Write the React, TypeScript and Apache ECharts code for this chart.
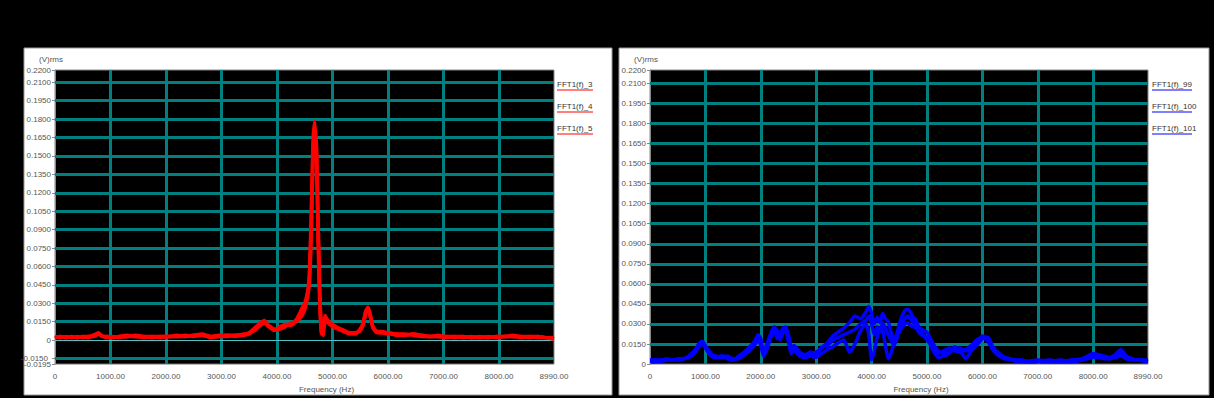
import { useEffect, useRef } from "react";
import * as echarts from "echarts";

// ---- Left panel data (Hz, (V)rms) ----
const freqL = [0, 100, 200, 300, 400, 500, 600, 700, 780, 860, 950, 1050, 1150, 1300, 1450, 1600, 1750, 1900, 2050, 2200, 2350, 2500, 2650, 2800, 2950, 3100, 3250, 3400, 3500, 3600, 3700, 3770, 3850, 3950, 4050, 4150, 4250, 4350, 4450, 4520, 4580, 4620, 4650, 4680, 4710, 4740, 4770, 4800, 4830, 4870, 4920, 5000, 5100, 5200, 5300, 5400, 5480, 5550, 5600, 5640, 5680, 5730, 5800, 5900, 6000, 6150, 6300, 6450, 6600, 6750, 6900, 7050, 7200, 7350, 7500, 7650, 7800, 7950, 8100, 8250, 8400, 8550, 8700, 8850, 8990];
const fft3 = [0.002, 0.003, 0.002, 0.003, 0.002, 0.003, 0.003, 0.004, 0.006, 0.003, 0.003, 0.002, 0.003, 0.004, 0.003, 0.003, 0.003, 0.003, 0.003, 0.004, 0.003, 0.004, 0.005, 0.003, 0.004, 0.004, 0.004, 0.005, 0.006, 0.010, 0.014, 0.016, 0.012, 0.008, 0.011, 0.013, 0.012, 0.016, 0.022, 0.030, 0.052, 0.110, 0.165, 0.178, 0.150, 0.080, 0.030, 0.008, 0.004, 0.018, 0.016, 0.012, 0.010, 0.008, 0.006, 0.005, 0.008, 0.014, 0.024, 0.027, 0.020, 0.010, 0.007, 0.007, 0.006, 0.005, 0.004, 0.005, 0.004, 0.003, 0.004, 0.003, 0.003, 0.003, 0.002, 0.003, 0.002, 0.003, 0.003, 0.004, 0.003, 0.003, 0.003, 0.002, 0.001];
const fft4 = [0.003, 0.002, 0.003, 0.002, 0.003, 0.002, 0.003, 0.003, 0.005, 0.003, 0.002, 0.003, 0.002, 0.003, 0.003, 0.002, 0.003, 0.002, 0.003, 0.003, 0.004, 0.003, 0.004, 0.003, 0.003, 0.004, 0.003, 0.004, 0.005, 0.009, 0.012, 0.014, 0.011, 0.008, 0.009, 0.011, 0.014, 0.015, 0.020, 0.028, 0.045, 0.090, 0.150, 0.172, 0.160, 0.100, 0.040, 0.012, 0.008, 0.015, 0.014, 0.011, 0.009, 0.007, 0.006, 0.006, 0.007, 0.012, 0.022, 0.025, 0.019, 0.010, 0.006, 0.006, 0.005, 0.005, 0.005, 0.004, 0.003, 0.003, 0.003, 0.003, 0.002, 0.003, 0.002, 0.002, 0.003, 0.002, 0.003, 0.003, 0.003, 0.002, 0.003, 0.002, 0.002];
const fft5 = [0.002, 0.003, 0.002, 0.003, 0.002, 0.003, 0.002, 0.004, 0.005, 0.003, 0.003, 0.002, 0.003, 0.003, 0.004, 0.003, 0.002, 0.003, 0.003, 0.003, 0.003, 0.004, 0.004, 0.002, 0.003, 0.003, 0.004, 0.004, 0.006, 0.008, 0.013, 0.015, 0.012, 0.009, 0.010, 0.012, 0.013, 0.017, 0.026, 0.033, 0.048, 0.100, 0.155, 0.170, 0.155, 0.090, 0.035, 0.005, 0.010, 0.020, 0.015, 0.013, 0.010, 0.008, 0.005, 0.006, 0.007, 0.013, 0.023, 0.026, 0.021, 0.011, 0.007, 0.006, 0.006, 0.004, 0.004, 0.005, 0.004, 0.003, 0.003, 0.002, 0.003, 0.002, 0.003, 0.002, 0.002, 0.003, 0.003, 0.003, 0.002, 0.003, 0.002, 0.002, 0.001];
const namesL = ["FFT1(f)_3", "FFT1(f)_4", "FFT1(f)_5"];

// ---- Right panel data ----
const freqR = [0, 100, 200, 300, 400, 500, 600, 700, 800, 900, 950, 1000, 1100, 1200, 1300, 1400, 1500, 1600, 1700, 1800, 1900, 1950, 2000, 2050, 2100, 2150, 2200, 2250, 2300, 2350, 2400, 2450, 2500, 2550, 2600, 2700, 2800, 2900, 3000, 3100, 3200, 3300, 3400, 3500, 3600, 3700, 3800, 3900, 3950, 4000, 4050, 4100, 4150, 4200, 4250, 4300, 4350, 4400, 4450, 4500, 4550, 4600, 4650, 4700, 4750, 4800, 4850, 4900, 5000, 5100, 5200, 5300, 5400, 5500, 5600, 5700, 5800, 5900, 6000, 6100, 6200, 6300, 6400, 6500, 6600, 6700, 6800, 7000, 7200, 7400, 7600, 7800, 7900, 8000, 8100, 8200, 8300, 8400, 8500, 8600, 8700, 8800, 8990];
const fft99 = [0.003, 0.003, 0.003, 0.004, 0.003, 0.004, 0.004, 0.006, 0.010, 0.016, 0.017, 0.014, 0.008, 0.005, 0.006, 0.005, 0.003, 0.005, 0.008, 0.012, 0.018, 0.022, 0.019, 0.008, 0.012, 0.018, 0.025, 0.028, 0.022, 0.018, 0.025, 0.028, 0.020, 0.009, 0.012, 0.008, 0.006, 0.008, 0.009, 0.012, 0.016, 0.021, 0.024, 0.027, 0.031, 0.036, 0.034, 0.039, 0.043, 0.038, 0.030, 0.035, 0.031, 0.038, 0.034, 0.032, 0.024, 0.019, 0.022, 0.030, 0.036, 0.040, 0.041, 0.039, 0.035, 0.033, 0.028, 0.026, 0.024, 0.016, 0.010, 0.008, 0.009, 0.011, 0.012, 0.010, 0.011, 0.016, 0.021, 0.019, 0.012, 0.008, 0.005, 0.004, 0.003, 0.003, 0.002, 0.002, 0.003, 0.002, 0.003, 0.004, 0.006, 0.008, 0.007, 0.006, 0.005, 0.007, 0.011, 0.006, 0.004, 0.003, 0.003];
const fft100 = [0.002, 0.002, 0.003, 0.003, 0.003, 0.003, 0.004, 0.005, 0.009, 0.015, 0.016, 0.013, 0.007, 0.006, 0.005, 0.006, 0.004, 0.004, 0.007, 0.010, 0.015, 0.018, 0.014, 0.006, 0.010, 0.016, 0.022, 0.024, 0.019, 0.022, 0.027, 0.025, 0.017, 0.008, 0.010, 0.006, 0.005, 0.006, 0.005, 0.008, 0.011, 0.013, 0.016, 0.018, 0.009, 0.015, 0.025, 0.030, 0.022, 0.003, 0.010, 0.020, 0.026, 0.025, 0.014, 0.004, 0.008, 0.015, 0.020, 0.024, 0.028, 0.030, 0.031, 0.029, 0.028, 0.027, 0.024, 0.022, 0.020, 0.011, 0.005, 0.006, 0.008, 0.013, 0.010, 0.004, 0.010, 0.014, 0.019, 0.020, 0.012, 0.007, 0.004, 0.004, 0.002, 0.003, 0.002, 0.002, 0.002, 0.002, 0.002, 0.003, 0.004, 0.005, 0.005, 0.004, 0.004, 0.005, 0.006, 0.004, 0.003, 0.003, 0.002];
const fft101 = [0.003, 0.003, 0.002, 0.003, 0.003, 0.003, 0.004, 0.005, 0.008, 0.014, 0.015, 0.012, 0.006, 0.005, 0.006, 0.004, 0.003, 0.006, 0.009, 0.013, 0.017, 0.020, 0.016, 0.010, 0.014, 0.020, 0.024, 0.026, 0.025, 0.020, 0.023, 0.027, 0.022, 0.012, 0.014, 0.009, 0.007, 0.009, 0.007, 0.013, 0.014, 0.018, 0.020, 0.022, 0.024, 0.026, 0.030, 0.033, 0.036, 0.030, 0.022, 0.028, 0.024, 0.031, 0.027, 0.022, 0.018, 0.014, 0.018, 0.026, 0.031, 0.034, 0.036, 0.034, 0.031, 0.030, 0.027, 0.024, 0.018, 0.013, 0.008, 0.010, 0.012, 0.010, 0.009, 0.011, 0.014, 0.018, 0.020, 0.017, 0.010, 0.006, 0.005, 0.003, 0.003, 0.002, 0.002, 0.003, 0.002, 0.003, 0.002, 0.003, 0.005, 0.006, 0.006, 0.005, 0.004, 0.006, 0.008, 0.005, 0.004, 0.003, 0.002];
const namesR = ["FFT1(f)_99", "FFT1(f)_100", "FFT1(f)_101"];

// ---- Axis ticks ----
const yTicksL = [-0.0195, -0.015, 0, 0.015, 0.03, 0.045, 0.06, 0.075, 0.09, 0.105, 0.12, 0.135, 0.15, 0.165, 0.18, 0.195, 0.21, 0.22];
const yLabelsL = [-0.0195, 0, 0.015, 0.03, 0.045, 0.06, 0.075, 0.09, 0.105, 0.12, 0.135, 0.15, 0.165, 0.18, 0.195, 0.21, 0.22];
const yExtraLabelL = -0.015;
const yTicksR = [0, 0.015, 0.03, 0.045, 0.06, 0.075, 0.09, 0.105, 0.12, 0.135, 0.15, 0.165, 0.18, 0.195, 0.21, 0.22];
const xTicks = [0, 1000, 2000, 3000, 4000, 5000, 6000, 7000, 8000, 8990];
const hGridL = [-0.015, 0.015, 0.03, 0.045, 0.06, 0.075, 0.09, 0.105, 0.12, 0.135, 0.15, 0.165, 0.18, 0.195, 0.21];
const hGridR = [0.015, 0.03, 0.045, 0.06, 0.075, 0.09, 0.105, 0.12, 0.135, 0.15, 0.165, 0.18, 0.195, 0.21];
const vGrid = [1000, 2000, 3000, 4000, 5000, 6000, 7000, 8000];

const FONT = "'Liberation Sans', Arial, sans-serif";
const TEAL = "#008080";
const LABEL = "#555555";

const fmtY = (v: number) => (v === 0 ? "0" : v.toFixed(4));
const fmtX = (v: number) => (v === 0 ? "0" : v.toFixed(2));

function pairs(xs: number[], ys: number[]) {
  return xs.map((x, i) => [x, ys[i]]);
}

function xAxisCfg(gi: number) {
  return {
    gridIndex: gi,
    type: "value",
    min: 0,
    max: 8990,
    axisLine: { show: false },
    axisTick: { show: false },
    splitLine: { show: false },
    axisLabel: {
      customValues: xTicks,
      formatter: fmtX,
      fontSize: 8,
      color: LABEL,
      fontFamily: FONT,
      margin: 8,
      showMinLabel: true,
      showMaxLabel: true,
    },
    name: "Frequency (Hz)",
    nameLocation: "middle",
    nameGap: 19,
    nameTextStyle: { fontSize: 8, color: LABEL, fontFamily: FONT, padding: [0, 0, 0, 44] },
  };
}

function yAxisCfg(gi: number, min: number, ticks: number[], labels: number[]) {
  return {
    gridIndex: gi,
    type: "value",
    min,
    max: 0.22,
    axisLine: { show: true, lineStyle: { color: "#888", width: 1 } },
    axisTick: { show: true, customValues: ticks, length: 3, lineStyle: { color: "#888" } },
    splitLine: { show: false },
    axisLabel: {
      customValues: labels,
      formatter: fmtY,
      fontSize: 8,
      color: LABEL,
      fontFamily: FONT,
      margin: 4,
      showMinLabel: true,
      showMaxLabel: true,
      hideOverlap: false,
    },
    name: "(V)rms",
    nameLocation: "end",
    nameGap: 7,
    nameTextStyle: { fontSize: 8, color: LABEL, fontFamily: FONT, padding: [0, 8, 0, 0] },
  };
}

function gridMarkLine(hLines: number[], withZero: boolean) {
  const data: any[] = [
    ...hLines.map((v) => ({ yAxis: v })),
    ...vGrid.map((v) => ({ xAxis: v })),
  ];
  if (withZero) data.push({ yAxis: 0, lineStyle: { color: "#4fc4c4", width: 1, type: "solid" } });
  return {
    silent: true,
    z: 1,
    precision: 8,
    symbol: ["none", "none"],
    label: { show: false },
    lineStyle: { color: TEAL, width: 3, type: "solid" },
    emphasis: { disabled: true },
    data,
  };
}

function legendGraphics(names: string[], x: number, color: string) {
  const els: any[] = [];
  names.forEach((n, i) => {
    const y = 84 + i * 22;
    els.push({
      type: "text",
      x,
      y,
      z: 20,
      style: { text: n, fill: "#333", font: `8px ${FONT}`, verticalAlign: "middle" },
    });
    els.push({
      type: "line",
      z: 20,
      shape: { x1: x, y1: y + 6, x2: x + (n.length > 9 ? 40 : 36), y2: y + 6 },
      style: { stroke: color, lineWidth: 1 },
    });
  });
  return els;
}

export default function App() {
  const ref = useRef<HTMLDivElement>(null);
  useEffect(() => {
    if (!ref.current) return;
    const chart = echarts.init(ref.current, null, { renderer: "svg" });
    const lineSeries = (name: string, xs: number[], ys: number[], gi: number, color: string, ml?: any) => ({
      type: "line",
      name,
      xAxisIndex: gi,
      yAxisIndex: gi,
      data: pairs(xs, ys),
      showSymbol: false,
      symbol: "none",
      smooth: 0.2,
      z: 3,
      lineStyle: { color, width: 3.5 },
      itemStyle: { color },
      emphasis: { disabled: true },
      ...(ml ? { markLine: ml } : {}),
    });
    const baseGraphics: any[] = [
      {
        type: "rect",
        z: -10,
        shape: { x: 24, y: 48, width: 588, height: 347 },
        style: { fill: "#ffffff", stroke: "#9a9a9a", lineWidth: 1 },
      },
      {
        type: "rect",
        z: -10,
        shape: { x: 619, y: 48, width: 590, height: 347 },
        style: { fill: "#ffffff", stroke: "#9a9a9a", lineWidth: 1 },
      },
      ...legendGraphics(namesL, 557, "#ff0000"),
      ...legendGraphics(namesR, 1152, "#0000ff"),
    ];
    chart.setOption({
      animation: false,
      backgroundColor: "#000000",
      textStyle: { fontFamily: FONT },
      graphic: baseGraphics,
      grid: [
        { left: 55, top: 70, width: 499, height: 295, show: true, backgroundColor: "#000000", borderColor: "#888", borderWidth: 1 },
        { left: 650, top: 70, width: 498, height: 295, show: true, backgroundColor: "#000000", borderColor: "#888", borderWidth: 1 },
      ],
      xAxis: [xAxisCfg(0), xAxisCfg(1)],
      yAxis: [yAxisCfg(0, -0.0195, yTicksL, yLabelsL), yAxisCfg(1, 0, yTicksR, yTicksR)],
      series: [
        lineSeries(namesL[0], freqL, fft3, 0, "#ff0000", gridMarkLine(hGridL, true)),
        lineSeries(namesL[1], freqL, fft4, 0, "#ff0000"),
        lineSeries(namesL[2], freqL, fft5, 0, "#ff0000"),
        lineSeries(namesR[0], freqR, fft99, 1, "#0000ff", gridMarkLine(hGridR, false)),
        lineSeries(namesR[1], freqR, fft100, 1, "#0000ff"),
        lineSeries(namesR[2], freqR, fft101, 1, "#0000ff"),
      ],
    });
    // overlapping "-0.0150" label (ECharts drops it as it collides with the min label)
    const p = chart.convertToPixel({ xAxisIndex: 0, yAxisIndex: 0 }, [0, yExtraLabelL]) as number[];
    chart.setOption({
      graphic: [
        ...baseGraphics,
        {
          type: "text",
          x: p[0] - 7,
          y: p[1],
          z: 20,
          style: { text: fmtY(yExtraLabelL), fill: LABEL, font: `8px ${FONT}`, align: "right", verticalAlign: "middle" },
        },
      ],
    });
    return () => chart.dispose();
  }, []);
  return (
    <div
      ref={ref}
      style={{ position: "fixed", left: 0, top: 0, width: 1214, height: 398, background: "#000" }}
    />
  );
}
